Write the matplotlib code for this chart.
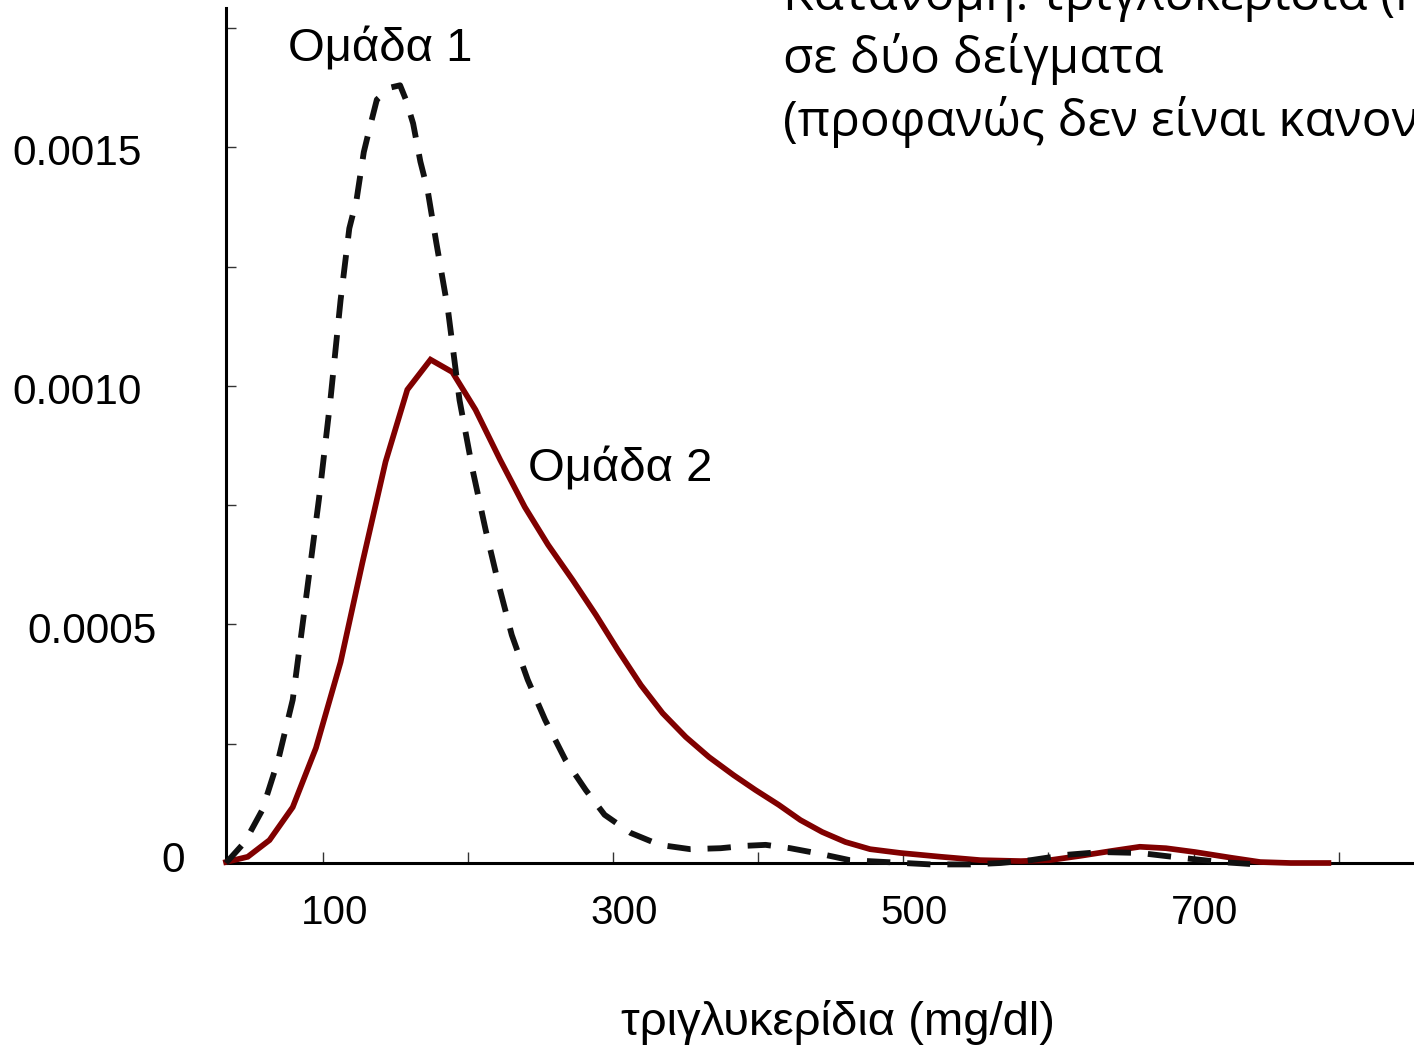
import matplotlib
matplotlib.use("Agg")
import matplotlib.pyplot as plt
from matplotlib.transforms import ScaledTranslation

# group 1 (dashed) density curve
x_group1 = [33, 46, 58, 69, 79, 88, 97, 105, 112, 118, 123, 128, 132, 137, 146,
            153, 157, 162, 167, 172, 178, 186, 194, 203, 212, 221, 230, 241,
            253, 267, 281, 294, 312, 332, 353, 374, 391, 405, 422, 443, 463,
            488, 519, 546, 567, 588, 612, 636, 663, 691, 719, 739]
y_group1 = [0.0, 0.000044, 0.000111, 0.000216, 0.000342, 0.000551, 0.000761,
            0.000971, 0.00118, 0.00133, 0.00139, 0.00149, 0.00154, 0.0016,
            0.001625, 0.00163, 0.0016, 0.00155, 0.00147, 0.00141, 0.0013,
            0.00116, 0.00097, 0.000824, 0.000698, 0.000583, 0.000478, 0.000384,
            0.0003, 0.000216, 0.000153, 0.000101, 0.000063, 0.000038, 0.000029,
            0.000031, 0.000036, 0.000038, 0.000031, 0.000019, 0.000006,
            0.000002, -0.000003, -0.000003, 0.0, 0.000006, 0.000017, 0.000023,
            0.000021, 0.000011, 0.000002, -0.000002]

# group 2 (solid) density curve
x_group2 = [33, 48, 63, 79, 95, 112, 127, 143, 158, 174, 189, 205, 222, 239, 255,
            272, 288, 303, 319, 334, 350, 366, 383, 398, 414, 429, 444, 460,
            477, 498, 526, 553, 581, 601, 622, 643, 663, 681, 701, 726, 746,
            767, 793]
y_group2 = [0.000002, 0.000013, 0.000048, 0.000117, 0.000241, 0.000421,
            0.000629, 0.000841, 0.000992, 0.001055, 0.001029, 0.00095, 0.000845,
            0.000746, 0.000667, 0.000593, 0.00052, 0.000447, 0.000373, 0.000314,
            0.000264, 0.000222, 0.000184, 0.000153, 0.000122, 0.00009, 0.000065,
            0.000044, 0.000029, 0.000021, 0.000013, 0.000006, 0.000004,
            0.000006, 0.000015, 0.000025, 0.000034, 0.000031, 0.000023,
            0.000011, 0.000002, 0.0, 0.0]

x_ticks = [100, 200, 300, 400, 500, 600, 700, 800]
x_labels = ["100", "", "300", "", "500", "", "700", ""]
y_ticks = [0, 0.00025, 0.0005, 0.00075, 0.001, 0.00125, 0.0015, 0.00175]
y_labels = ["0", "", "0.0005", "", "0.0010", "", "0.0015", ""]
# how far left of the axis each y label ends (px), they are not aligned
y_label_gap = [41, 0, 69, 0, 84, 0, 84, 0]
y_label_drop = [-2, 0, 8, 0, 7, 0, 7, 0]

title_lines = ["Κατανομή: τριγλυκερίδια (mg/dl)",
               "σε δύο δείγματα",
               "(προφανώς δεν είναι κανονικές)"]

fig = plt.figure(figsize=(14.14, 10.5), dpi=100)
ax = fig.add_axes([226 / 1414, 1 - 863 / 1050, 1188 / 1414, 855 / 1050])

ax.plot(x_group2, y_group2, color="#800000", lw=4.1, solid_joinstyle="miter",
        clip_on=False, zorder=3)
ax.plot(x_group1, y_group1, color="#111111", lw=4.2, linestyle=(0, (4.0, 2.9)),
        clip_on=False, zorder=4)

ax.set_xlim(33, 852)
ax.set_ylim(0, 0.001792)

for s in ["top", "right"]:
    ax.spines[s].set_visible(False)
for s in ["left", "bottom"]:
    ax.spines[s].set_linewidth(2.2)
    ax.spines[s].set_zorder(2)

ax.set_xticks(x_ticks)
ax.set_yticks(y_ticks)
ax.set_xticklabels([])
ax.set_yticklabels([])
ax.tick_params(axis="x", direction="in", length=8, width=1.0, color="#333333")
ax.tick_params(axis="y", direction="in", length=7, width=1.0, color="#333333")

lab_font = "Liberation Sans"
xoff = ScaledTranslation(11 / 100, 0, fig.dpi_scale_trans)
for v, t in zip(x_ticks, x_labels):
    if t:
        ax.text(v, -50 / 855, t, transform=ax.get_xaxis_transform() + xoff,
                ha="center", va="center", fontsize=29, family=lab_font)
for v, t, g, d in zip(y_ticks, y_labels, y_label_gap, y_label_drop):
    if t:
        off = ScaledTranslation(0, -d / 100, fig.dpi_scale_trans)
        ax.text(-g / 1188, v, t, transform=ax.get_yaxis_transform() + off,
                ha="right", va="center", fontsize=30.5, family=lab_font)

ax.text(76, 0.001679, "Ομάδα 1", fontsize=34, family=lab_font,
        ha="left", va="baseline")
ax.text(241, 0.000799, "Ομάδα 2", fontsize=34, family=lab_font,
        ha="left", va="baseline")

fig.text(838 / 1414, 1 - 1035 / 1050, "τριγλυκερίδια (mg/dl)", fontsize=34,
         family=lab_font, ha="center", va="baseline")

for i, line in enumerate(title_lines):
    fig.text(783 / 1414, 1 - (10 + 63 * i) / 1050, line, fontsize=35.7,
             family="Open Sans", ha="left", va="baseline")

fig.savefig("out.png", dpi=100)
